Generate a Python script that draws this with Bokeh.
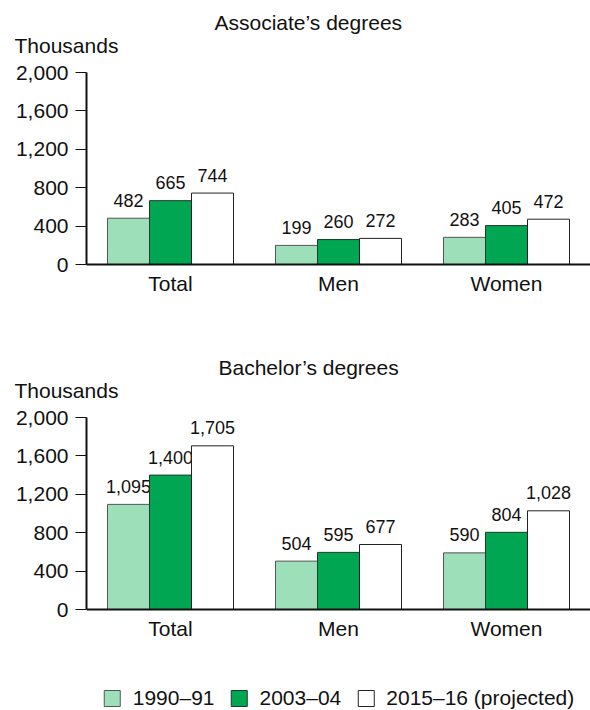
from bokeh.plotting import figure
from bokeh.models import (Range1d, FactorRange, Title, Legend, LegendItem,
                          ColumnDataSource, NumeralTickFormatter, FixedTicker)
from bokeh.transform import dodge
from bokeh.layouts import column
from bokeh.embed import file_html
from bokeh.resources import INLINE
from bokeh.core.properties import value

categories = ["Total", "Men", "Women"]
series = ["1990\u201391", "2003\u201304", "2015\u201316 (projected)"]
associate_1990 = [482, 199, 283]
associate_2003 = [665, 260, 405]
associate_2015 = [744, 272, 472]
bachelor_1990 = [1095, 504, 590]
bachelor_2003 = [1400, 595, 804]
bachelor_2015 = [1705, 677, 1028]
y_ticks = [0, 400, 800, 1200, 1600, 2000]
Y_MAX = 2000

FONT = "Liberation Sans"
TEXT = "#111111"
fills = ["#9ddfb9", "#00a651", "#ffffff"]
outlines = ["#555555", "#1d3a2a", "#222222"]
offsets = [-0.25, 0.0, 0.25]
PX_PER_AXIS = 192  # pixel height of the 0..2000 part of each plot


def make_panel(title, title_offset, vals, frame_h, bottom_border, with_legend):
    data = dict(cat=categories)
    for i, v in enumerate(vals):
        data[f"s{i}"] = v
        data[f"l{i}"] = [f"{x:,}" for x in v]
    src = ColumnDataSource(data)
    y_start = -Y_MAX * (frame_h - PX_PER_AXIS) / PX_PER_AXIS
    p = figure(x_range=FactorRange(*categories), y_range=Range1d(y_start, Y_MAX),
               frame_width=504, frame_height=frame_h, output_backend="svg",
               toolbar_location=None, min_border_left=86, min_border_right=0,
               min_border_top=72, min_border_bottom=bottom_border)
    p.outline_line_color = None
    p.xgrid.grid_line_color = None
    p.ygrid.grid_line_color = None
    # spacer between frame and "Thousands"
    p.add_layout(Title(text=" ", text_font=FONT, text_font_size="6px",
                       standoff=8), "above")
    p.add_layout(Title(text="Thousands", align="left", offset=-72,
                       text_font=FONT, text_font_size="21px", text_color=TEXT,
                       text_font_style="normal", standoff=0), "above")
    p.add_layout(Title(text=title, align="left", offset=title_offset,
                       text_font=FONT, text_font_size="21px", text_color=TEXT,
                       text_font_style="normal", standoff=-4), "above")
    renderers = []
    for i in range(3):
        r = p.vbar(x=dodge("cat", offsets[i], range=p.x_range), top=f"s{i}",
                   width=0.25, source=src, fill_color=fills[i],
                   line_color=outlines[i], line_width=1)
        renderers.append(r)
        p.text(x=dodge("cat", offsets[i], range=p.x_range), y=f"s{i}",
               text=f"l{i}", source=src, text_align="center",
               text_baseline="alphabetic", y_offset=-18,
               text_font=value(FONT), text_font_size="18px", text_color=TEXT)
    p.yaxis.ticker = FixedTicker(ticks=y_ticks)
    p.yaxis.formatter = NumeralTickFormatter(format="0,0")
    p.yaxis.bounds = (0, Y_MAX)
    p.yaxis.minor_tick_line_color = None
    p.yaxis.major_tick_in = 0
    p.yaxis.major_tick_out = 11
    p.yaxis.major_label_standoff = 7
    p.axis.axis_line_width = 2
    p.axis.axis_line_color = TEXT
    p.axis.major_tick_line_color = TEXT
    p.axis.major_label_text_font = FONT
    p.axis.major_label_text_font_size = "21px"
    p.axis.major_label_text_color = TEXT
    p.xaxis.major_tick_line_color = None
    p.xaxis.major_tick_in = 0
    p.xaxis.major_tick_out = 0
    p.xaxis.major_label_standoff = 7
    if with_legend:
        p.xaxis.fixed_location = 0
        legend = Legend(items=[LegendItem(label=series[i], renderers=[renderers[i]])
                               for i in range(3)],
                        orientation="horizontal", location="bottom_center",
                        glyph_width=20, glyph_height=20, label_standoff=11,
                        spacing=14, padding=0, margin=0,
                        border_line_color=None, background_fill_alpha=0,
                        label_text_font=FONT, label_text_font_size="21px",
                        label_text_color=TEXT)
        p.add_layout(legend, "center")
    return p


p1 = make_panel("Associate\u2019s degrees", 128,
                [associate_1990, associate_2003, associate_2015], 192, 81, False)
p2 = make_panel("Bachelor\u2019s degrees", 132,
                [bachelor_1990, bachelor_2003, bachelor_2015], 293, 0, True)

layout = column(p1, p2)
open("out.html", "w").write(file_html(layout, INLINE))
